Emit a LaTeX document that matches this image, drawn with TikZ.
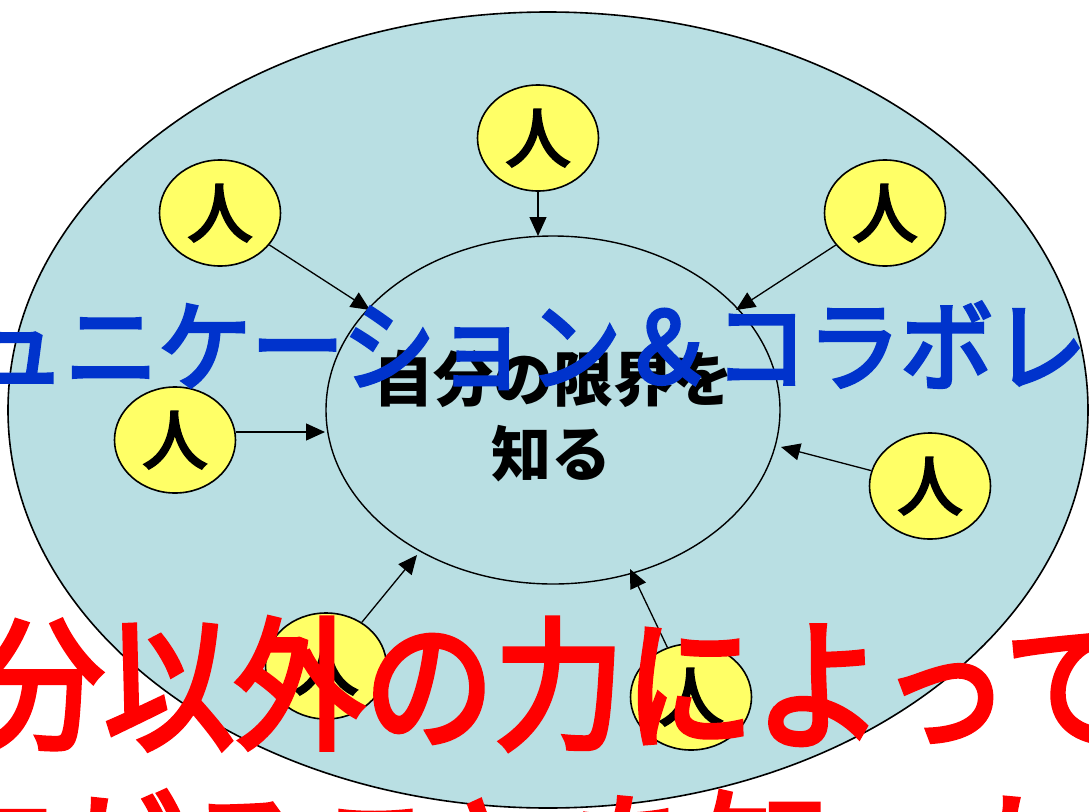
\documentclass[tikz,border=0pt]{standalone}
\usepackage{fontspec}
\usepackage{graphicx}
\newfontfamily\jp{Noto Sans CJK JP}
\newfontfamily\jpmed{Noto Sans CJK JP}[FakeBold=3.8]
\newfontfamily\jpppl{Noto Sans CJK JP}[FakeBold=4.5]
\usetikzlibrary{shapes.geometric,arrows.meta}
\definecolor{bgblue}{HTML}{B9DFE3}
\definecolor{pyellow}{HTML}{FFFF66}
\definecolor{tblue}{HTML}{0033CC}
\definecolor{tred}{HTML}{FF0000}
\begin{document}
\begin{tikzpicture}[x=1pt,y=-1pt,
  person/.style={ellipse,draw=black,line width=1.6pt,fill=pyellow,minimum width=121pt,minimum height=106pt,inner sep=0pt,font=\jpppl\fontsize{64}{64}\selectfont},
  conn/.style={draw=black,line width=1.3pt,-{Triangle[length=19pt,width=17pt]}},
  ring/.style={ellipse,draw=black,inner sep=0pt},
  overlay/.style={anchor=base west,inner sep=0pt}
  ]
\useasboundingbox (0,0) rectangle (1089,811);
\clip (0,0) rectangle (1089,811);
\node[ring,line width=1.6pt,fill=bgblue,minimum width=1080pt,minimum height=796pt] (outer) at (548,410) {};
\node[ring,line width=1.4pt,minimum width=454pt,minimum height=348pt] (core) at (553,410) {};
% people
\node[person] (pTop) at (538,138) {\raisebox{-4.5pt}{人}};
\node[person] (pTL) at (220,213) {\raisebox{-4.5pt}{人}};
\node[person] (pTR) at (885,213) {\raisebox{-4.5pt}{人}};
\node[person] (pL) at (175,440) {\raisebox{-4.5pt}{人}};
\node[person] (pR) at (930,486) {\raisebox{-4.5pt}{人}};
\node[person] (pBL) at (326,666) {\raisebox{-4.5pt}{人}};
\node[person] (pBR) at (691,697) {\raisebox{-4.5pt}{人}};
% arrow targets on the inner ellipse
\coordinate (tTop) at (538,236);
\coordinate (tTL) at (370,310);
\coordinate (tTR) at (736,310);
\coordinate (tL) at (325,432);
\coordinate (tR) at (781,447);
\coordinate (tBL) at (417,555);
\coordinate (tBR) at (630,569);
\draw[conn] (pTop) -- (tTop);
\draw[conn] (pTL) -- (tTL);
\draw[conn] (pTR) -- (tTR);
\draw[conn] (pL.east |- tL) -- (tL);
\draw[conn] (pR) -- (tR);
\draw[conn] (pBL) -- (tBL);
\draw[conn] (pBR) -- (tBR);
% centre text
\node[anchor=base,inner sep=0pt,font=\jp\bfseries\fontsize{60}{60}\selectfont] (lab1) at (553,401) {自分の限界を};
\node[anchor=base,inner sep=0pt,font=\jp\bfseries\fontsize{60}{60}\selectfont] (lab2) at (551,476) {知る};
% blue overlay text
\node[overlay,text=tblue,font=\jpmed\fontsize{93}{93}\selectfont] (cc) at (-214,383) {\scalebox{1}[1.06]{コミュニケーション＆コラボレーション}};
% red overlay text
\node[overlay,text=tred,font=\jpmed\fontsize{130}{130}\selectfont] (r1) at (-156,738) {\scalebox{1}[1.1]{自分以外の力によって}};
\node[overlay,text=tred,font=\jpmed\fontsize{130}{130}\selectfont] (r2) at (-470,912) {\scalebox{1}[1.1]{視野が広がることを知った}};
\end{tikzpicture}
\end{document}
